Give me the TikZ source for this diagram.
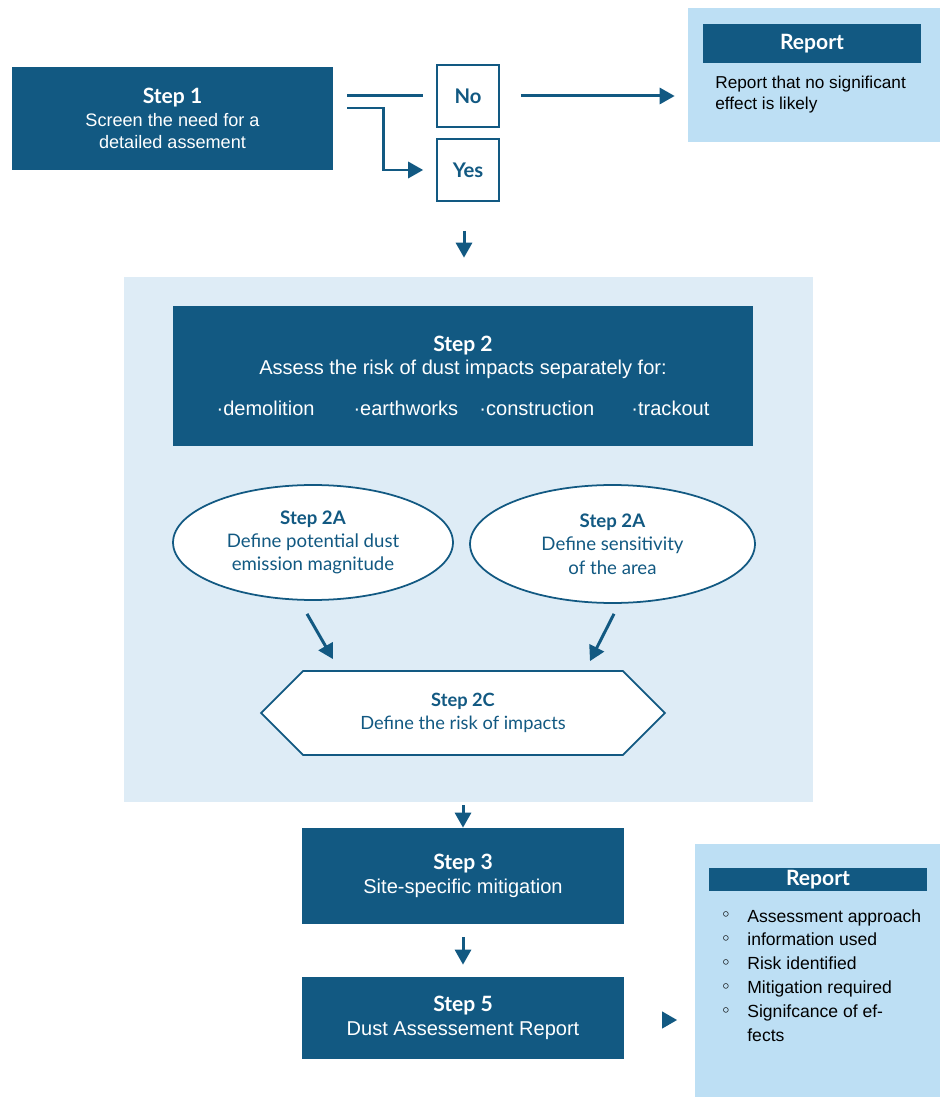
\documentclass[tikz,border=0pt]{standalone}
\usepackage{fontspec}
\setmainfont{Liberation Sans}
\newfontfamily\gill{Lato}
\usetikzlibrary{positioning, arrows.meta, shapes.geometric, shapes.symbols}

\definecolor{dkblue}{RGB}{18,89,130}
\definecolor{repblue}{RGB}{189,223,244}
\definecolor{paleblue}{RGB}{222,236,246}
\newcommand{\stephead}[1]{{\gill\bfseries\fontsize{12}{13}\selectfont #1}}
\newcommand{\rbul}{\makebox[0.5cm][l]{\raisebox{0.45ex}{\scriptsize$\circ$}}}

\begin{document}
\begin{tikzpicture}[x=0.02cm, y=-0.02cm,
    stepbox/.style={fill=dkblue, text=white, align=center, inner sep=0pt,
        font=\fontsize{11.4}{13.3}\selectfont},
    choice/.style={draw=dkblue, line width=0.9pt, fill=white, text=dkblue,
        minimum size=1.24cm, inner sep=0pt, font=\gill\bfseries\fontsize{11.5}{13}\selectfont},
    oval/.style={ellipse, draw=dkblue, line width=1pt, fill=white, text=dkblue,
        align=center, inner sep=0pt, font=\gill\fontsize{10.6}{13.3}\selectfont},
    reportbox/.style={fill=repblue, inner sep=0pt},
    reporthead/.style={fill=dkblue, text=white, inner sep=0pt, minimum width=4.36cm,
        font=\gill\bfseries\fontsize{12}{13}\selectfont},
    wire/.style={draw=dkblue, line width=1.7pt},
    arr/.style={wire, -{Triangle[length=0.3cm,width=0.32cm]}}
]
    \useasboundingbox (0,0) rectangle (940,1097);

    % pale panel behind step 2
    \node[fill=paleblue, minimum width=13.78cm, minimum height=10.5cm] (area) at (468.5,539.5) {};

    \node[stepbox, minimum width=6.42cm, minimum height=2.06cm, font=\fontsize{10.3}{13}\selectfont] (step1) at (172.5,118.5)
        {\stephead{Step 1}\\Screen the need for a\\detailed assement};
    \node[choice] (no) at (468,96) {No};
    \node[choice] (yes) at (468,170) {Yes};

    \node[reportbox, minimum width=5.04cm, minimum height=2.68cm] (rep1) at (814,75) {};
    \node[reporthead, minimum height=0.78cm] (rep1head) at (812,43.5) {Report};
    \node[anchor=west, align=left, inner sep=0pt, font=\fontsize{9.8}{12}\selectfont] (rep1txt) at (715,94.5)
        {Report that no significant\\effect is likely};

    \node[stepbox, minimum width=11.6cm, minimum height=2.8cm] (step2) at (463,376)
        {\stephead{Step 2}\\Assess the risk of dust impacts separately for:\\[0.36cm]
         \makebox[2.74cm][l]{\textperiodcentered demolition}\makebox[2.52cm][l]{\textperiodcentered earthworks}\makebox[3.04cm][l]{\textperiodcentered construction}\textperiodcentered trackout};

    \node[oval, minimum width=5.6cm, minimum height=2.3cm] (ell1) at (313,542.5)
        {\textbf{Step 2A}\\Define potential dust\\emission magnitude};
    \node[oval, minimum width=5.7cm, minimum height=2.36cm] (ell2) at (612.5,544)
        {\textbf{Step 2A}\\Define sensitivity\\of the area};

    \node[signal, signal to=west and east, draw=dkblue, line width=1pt, fill=white, text=dkblue,
        align=center, inner sep=0pt, minimum width=8.08cm, minimum height=1.68cm,
        font=\gill\fontsize{10.4}{13.3}\selectfont] (hex) at (463,713)
        {\textbf{Step 2C}\\Define the risk of impacts};

    \node[stepbox, minimum width=6.44cm, minimum height=1.92cm] (step3) at (463,876)
        {\stephead{Step 3}\\Site-specific mitigation};
    \node[stepbox, minimum width=6.44cm, minimum height=1.64cm] (step5) at (463,1018)
        {\stephead{Step 5}\\Dust Assessement Report};

    \node[isosceles triangle, isosceles triangle apex angle=60, fill=dkblue, inner sep=0pt,
        minimum height=0.3cm] (ptr) at (667,1020) {};

    \node[reportbox, minimum width=4.9cm, minimum height=5.06cm] (rep2) at (817.5,970.5) {};
    \node[reporthead, minimum height=0.46cm] (rep2head) at (818,879.5) {Report};
    \node[anchor=north west, align=left, inner sep=0pt, font=\fontsize{10}{13.6}\selectfont] (rep2txt) at (722,909)
        {\rbul Assessment approach\\\rbul information used\\\rbul Risk identified\\
         \rbul Mitigation required\\\rbul Signifcance of ef-\\\hspace*{0.5cm}fects};

    % connectors
    \draw[wire] ([xshift=0.28cm]step1.east |- no.west) -- ([xshift=-0.26cm]no.west);
    \draw[arr] ([xshift=0.28cm,yshift=0.21cm]step1.east) -- ++(0.72cm,0) |- ([xshift=-0.26cm]yes.west);
    \draw[arr, shorten <=0.42cm, shorten >=0.26cm] (no.east) -- (no.east -| rep1.west);
    \draw[arr, shorten <=0.58cm, shorten >=0.38cm] ([xshift=-0.08cm]yes.south) -- ([xshift=-0.08cm]yes.south |- area.north);
    \draw[arr] ([xshift=-0.12cm,yshift=-0.26cm]ell1.south) -- ([xshift=-2.6cm,yshift=0.22cm]hex.north);
    \draw[arr] ([xshift=0.03cm,yshift=-0.2cm]ell2.south) -- ([xshift=2.54cm,yshift=0.18cm]hex.north);
    \draw[arr, shorten <=0.06cm] (step3.north |- area.south) -- (step3.north);
    \draw[arr, shorten <=0.26cm, shorten >=0.24cm] (step3) -- (step5);
\end{tikzpicture}
\end{document}
